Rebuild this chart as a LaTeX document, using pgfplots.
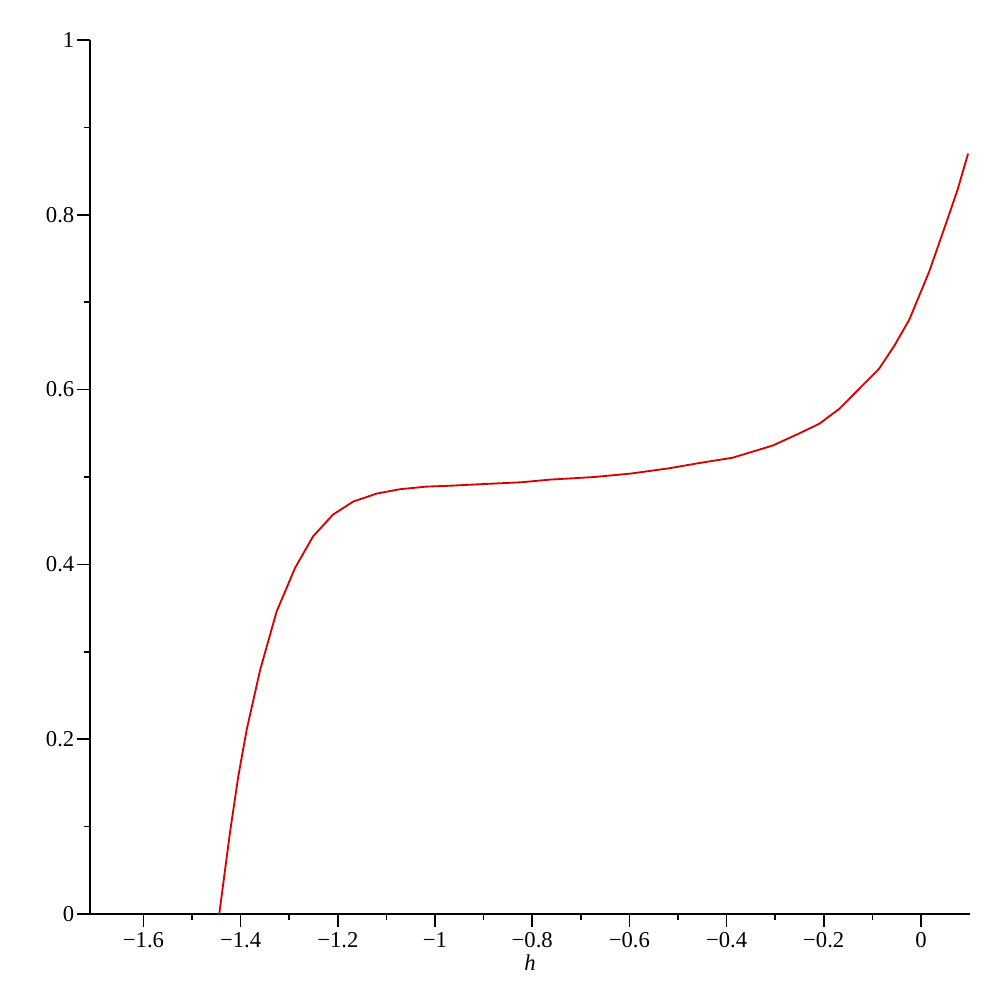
\documentclass[border=0pt]{standalone}
\usepackage{fontspec}
\setmainfont{Liberation Serif}
\usepackage{pgfplots}
\pgfplotsset{compat=1.18}
\usetikzlibrary{calc}

\begin{document}
\begin{tikzpicture}
\begin{axis}[
    name=ax,
    width=264pt, height=262.2pt,
    scale only axis,
    axis lines=left,
    axis line style={-, line width=0.5pt},
    xmin=-1.71, xmax=0.101,
    ymin=0, ymax=1,
    xtick={-1.6,-1.4,-1.2,-1,-0.8,-0.6,-0.4,-0.2,0},
    xticklabels={−1.6,−1.4,−1.2,−1,−0.8,−0.6,−0.4,−0.2,0},
    ytick={0,0.2,0.4,0.6,0.8,1},
    yticklabels={0,0.2,0.4,0.6,0.8,1},
    minor tick num=1,
    tick align=outside,
    major tick length=3.9pt,
    minor tick length=1.8pt,
    tick style={black, line width=0.5pt},
    ticklabel style={font=\fontsize{6.8}{8}\selectfont},
    yticklabel style={inner xsep=0.6pt},
    xticklabel style={inner ysep=1.5pt},
    xtick pos=bottom, ytick pos=left,
    xlabel={\fontsize{6.8}{8}\selectfont\textit{h}},
    xlabel style={yshift=3pt},
    clip=false,
]
\addplot[color=red!85!black, line width=0.55pt] coordinates {
    (-1.444, 0.000)
    (-1.422, 0.093)
    (-1.405, 0.157)
    (-1.3875, 0.211)
    (-1.360, 0.279)
    (-1.326, 0.346)
    (-1.288, 0.396)
    (-1.251, 0.432)
    (-1.210, 0.457)
    (-1.168, 0.472)
    (-1.120, 0.481)
    (-1.0725, 0.486)
    (-1.018, 0.489)
    (-0.970, 0.490)
    (-0.898, 0.492)
    (-0.822, 0.494)
    (-0.764, 0.497)
    (-0.672, 0.500)
    (-0.596, 0.504)
    (-0.518, 0.510)
    (-0.456, 0.516)
    (-0.388, 0.522)
    (-0.305, 0.536)
    (-0.250, 0.550)
    (-0.209, 0.561)
    (-0.168, 0.578)
    (-0.127, 0.601)
    (-0.086, 0.624)
    (-0.055, 0.650)
    (-0.024, 0.680)
    (0.017, 0.735)
    (0.054, 0.794)
    (0.075, 0.828)
    (0.097, 0.870)
};
\end{axis}
\pgfresetboundingbox
\path[use as bounding box] ($(ax.south west)+(-27pt,-23.1pt)$) rectangle ($(ax.north east)+(9.9pt,12pt)$);
\end{tikzpicture}
\end{document}
